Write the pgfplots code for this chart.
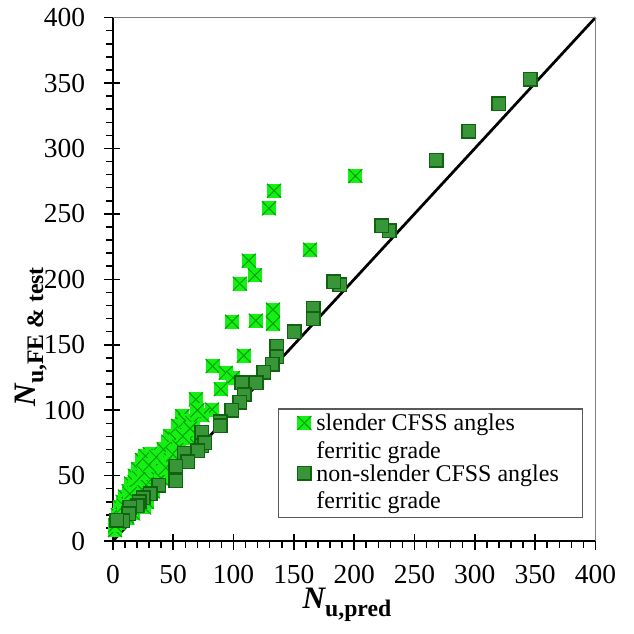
\documentclass[border=0pt]{standalone}
\usepackage{fontspec}
\setmainfont{Liberation Serif}
\usepackage{pgfplots}
\pgfplotsset{compat=1.18}
\definecolor{lgreen}{RGB}{20,240,20}
\definecolor{lgreenx}{RGB}{0,160,0}
\definecolor{dgreen}{RGB}{56,150,56}
\definecolor{dgreenb}{RGB}{16,100,16}
\pgfdeclareplotmark{sqx}{%
  \pgfpathrectangle{\pgfpoint{-\pgfplotmarksize}{-\pgfplotmarksize}}{\pgfpoint{2\pgfplotmarksize}{2\pgfplotmarksize}}%
  \pgfusepathqfill
  \pgfpathmoveto{\pgfpoint{-\pgfplotmarksize}{-\pgfplotmarksize}}\pgfpathlineto{\pgfpoint{\pgfplotmarksize}{\pgfplotmarksize}}%
  \pgfpathmoveto{\pgfpoint{-\pgfplotmarksize}{\pgfplotmarksize}}\pgfpathlineto{\pgfpoint{\pgfplotmarksize}{-\pgfplotmarksize}}%
  \pgfusepathqstroke
}
\pgfplotstableread{
x y
133.6 267.7
129.4 254.2
201.0 278.9
163.4 222.7
112.6 214.3
117.6 203.1
105.2 196.7
132.7 176.9
98.7 167.7
118.4 168.5
132.7 166.2
108.5 141.7
82.6 133.6
93.6 128.5
99.6 124.7
89.4 116.0
68.7 108.2
82.2 100.5
74.2 96.2
57.6 95.4
57.6 89.3
61.5 85.3
63.1 81.7
47.7 80.2
56.5 84.2
63.8 78.4
47.3 73.3
47.3 69.5
30.6 66.4
40.3 63.9
25.7 58.8
34.0 58.8
22.4 51.7
30.6 49.1
19.0 46.6
19.6 40.2
25.0 37.6
25.7 25.7
16.8 21.1
12.7 23.7
4.4 13.5
1.7 8.4
5.8 17.3
2 12
4 20
6 26
8 30
10 34
13 38
15 44
18 50
21 55
24 62
27 65
12 18
16 26
20 32
23 38
27 42
30 45
35 50
40 48
38 60
43 66
46 76
52 78
54 88
60 92
66 90
70 100
28 30
33 38
18 45
22 48
26 52
30 58
36 64
42 70
48 62
44 56
50 66
55 72
58 80
64 86
14 36
9 27
}\slender
\pgfplotstableread{
x y
346 353
320 334
295 313
268 291
229 237
223 241
188 196
183 198
166 178
166 170
150.5 160
136 149
136 141
132 135
125 129
119 121
107 121
109 112
105 106
98.5 100
89 91
89 88
73.5 83
73.5 73
76 75
70.5 69
59 67
62 60.5
52 57
52 46
38 42.5
31 36
25 33
22 30
20 27
14 26
13 21
8 15.5
3 16
}\nonslender
\begin{document}
\begin{tikzpicture}
\begin{axis}[
  scale only axis, width=193.2pt, height=209.6pt,
  xmin=0, xmax=400, ymin=0, ymax=400,
  clip=false,
  axis x line*=bottom, axis y line*=left,
  axis line style={black, line width=0.8pt, -},
  xtick={0,50,...,400}, ytick={0,50,...,400},
  minor tick num=4,
  tick align=outside,
  major tick length=3.6pt, minor tick length=2.8pt,
  tick style={black, line width=0.6pt},
  extra x ticks={50,100,...,400}, extra y ticks={50,100,...,400},
  extra x tick labels={}, extra y tick labels={},
  extra tick style={tick align=inside, major tick length=2.8pt},
  ticklabel style={font=\fontsize{11}{13}\selectfont},
  /pgf/number format/assume math mode=true,
  yticklabel style={xshift=-4pt},
  xticklabel style={yshift=-2.5pt},
  xlabel={{\fontsize{12.5}{14}\selectfont\bfseries\itshape N}\raisebox{-3pt}{\fontsize{9.5}{10}\selectfont\bfseries u,pred}},
  ylabel={{\fontsize{12.5}{14}\selectfont\bfseries\itshape N}\raisebox{-3pt}{\fontsize{9.5}{10}\selectfont\bfseries u,FE \& test}},
  xlabel style={at={(axis description cs:0.485,-0.122)}, anchor=center, inner sep=0pt},
  ylabel style={at={(axis description cs:-0.17,0.39)}, anchor=center, inner sep=0pt},
  legend cell align=left,
  legend style={at={(axis description cs:0.342,0.044)}, anchor=south west,
    draw=black!65, line width=0.6pt, font=\fontsize{9.6}{11}\selectfont,
    cells={align=left}, nodes={inner ysep=0.5pt}, inner xsep=7.5pt, inner ysep=1.5pt, row sep=0pt},
  legend image code/.code={\draw[mark repeat=2,mark phase=2,#1] plot coordinates {(0cm,6pt) (0.15cm,6pt) (0.3cm,6pt)};},
]
\addplot[black, line width=1.1pt, forget plot] coordinates {(0,0) (400,400)};
\addplot[only marks, mark=sqx, mark size=2.8pt, mark options={fill=lgreen, draw=lgreenx, line width=0.4pt}] table[x=x,y=y] {\slender};
\addlegendentry{slender CFSS angles\\ferritic grade}
\addplot[only marks, mark=square*, mark size=2.7pt, mark options={fill=dgreen, draw=dgreenb, line width=0.6pt}] table[x=x,y=y] {\nonslender};
\addlegendentry{non-slender CFSS angles\\ferritic grade}
\draw[black!50, line width=0.5pt] (rel axis cs:0,1) -- (rel axis cs:1,1) -- (rel axis cs:1,0);
\path (rel axis cs:-0.234,-0.1775) rectangle (rel axis cs:1.0787,1.0324);
\end{axis}
\end{tikzpicture}
\end{document}
